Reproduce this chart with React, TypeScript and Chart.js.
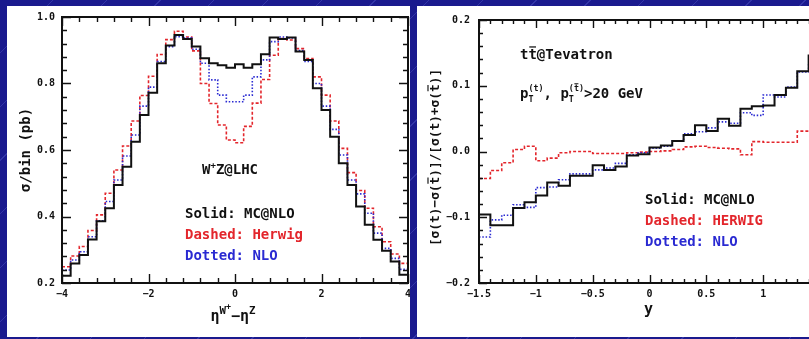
import React, { useEffect, useRef } from 'react';
import { Chart, registerables } from 'chart.js';
Chart.register(...registerables);

// ---------- data: left panel (W+Z @ LHC) ----------
const LEFT_EDGES = [-4.0,-3.8,-3.6,-3.4,-3.2,-3.0,-2.8,-2.6,-2.4,-2.2,-2.0,-1.8,-1.6,-1.4,-1.2,-1.0,-0.8,-0.6,-0.4,-0.2,0.0,0.2,0.4,0.6,0.8,1.0,1.2,1.4,1.6,1.8,2.0,2.2,2.4,2.6,2.8,3.0,3.2,3.4,3.6,3.8,4.0];
const LEFT_MCNLO = [0.222,0.259,0.284,0.331,0.386,0.425,0.495,0.55,0.625,0.705,0.772,0.861,0.914,0.946,0.934,0.911,0.876,0.861,0.855,0.847,0.858,0.847,0.858,0.888,0.938,0.934,0.938,0.896,0.871,0.786,0.72,0.64,0.56,0.495,0.43,0.375,0.33,0.297,0.265,0.225];
const LEFT_HERWIG = [0.249,0.281,0.31,0.358,0.405,0.47,0.54,0.612,0.687,0.764,0.822,0.887,0.932,0.957,0.94,0.898,0.80,0.74,0.675,0.63,0.622,0.671,0.741,0.812,0.885,0.935,0.931,0.905,0.875,0.82,0.765,0.687,0.605,0.532,0.478,0.425,0.369,0.324,0.287,0.259];
const LEFT_NLO = [0.239,0.269,0.294,0.339,0.387,0.445,0.51,0.582,0.645,0.732,0.789,0.866,0.911,0.941,0.937,0.903,0.861,0.811,0.765,0.745,0.745,0.765,0.82,0.871,0.926,0.94,0.937,0.899,0.866,0.80,0.732,0.662,0.585,0.51,0.468,0.41,0.35,0.304,0.274,0.241];
const LEFT_X_TICKS = [-4, -2, 0, 2, 4];
const LEFT_Y_TICKS = [0.2, 0.4, 0.6, 0.8, 1.0];

// ---------- data: right panel (t tbar @ Tevatron) ----------
const RIGHT_EDGES = [-1.5,-1.4,-1.3,-1.2,-1.1,-1.0,-0.9,-0.8,-0.7,-0.6,-0.5,-0.4,-0.3,-0.2,-0.1,0.0,0.1,0.2,0.3,0.4,0.5,0.6,0.7,0.8,0.9,1.0,1.1,1.2,1.3,1.4,1.5];
const RIGHT_MCNLO = [-0.096,-0.112,-0.112,-0.086,-0.077,-0.067,-0.047,-0.052,-0.037,-0.037,-0.021,-0.028,-0.023,-0.006,-0.004,0.006,0.009,0.016,0.025,0.040,0.031,0.050,0.039,0.065,0.069,0.070,0.086,0.097,0.122,0.146];
const RIGHT_HERWIG = [-0.041,-0.029,-0.017,0.003,0.008,-0.014,-0.010,-0.002,0.000,0.000,-0.003,-0.003,-0.003,-0.002,-0.001,0.000,0.001,0.003,0.007,0.008,0.006,0.005,0.004,-0.005,0.015,0.014,0.014,0.014,0.031,0.029];
const RIGHT_NLO = [-0.130,-0.104,-0.097,-0.081,-0.085,-0.055,-0.054,-0.043,-0.034,-0.034,-0.028,-0.025,-0.018,-0.005,-0.002,0.005,0.008,0.016,0.027,0.030,0.036,0.045,0.043,0.059,0.055,0.086,0.083,0.098,0.121,0.135];
const RIGHT_X_TICKS = [-1.5, -1, -0.5, 0, 0.5, 1, 1.5];
const RIGHT_Y_TICKS = [-0.2, -0.1, 0, 0.1, 0.2];

// ---------- style ----------
const BLACK = '#111111';
const RED = '#e3262c';
const BLUE = '#2a2ad2';
const MONO = "'DejaVu Sans Mono', monospace";

type Seg = { t: string; s?: number; dy?: number; over?: boolean; hold?: boolean };

function drawRich(ctx: CanvasRenderingContext2D, segs: Seg[], x: number, y: number, size: number, color: string, align: 'left' | 'center') {
  let total = 0;
  const widths: number[] = [];
  for (const g of segs) {
    ctx.font = `bold ${size * (g.s || 1)}px ${MONO}`;
    const w = ctx.measureText(g.t).width;
    widths.push(w);
    if (!g.hold) total += w;
  }
  let cx = align === 'center' ? x - total / 2 : x;
  ctx.fillStyle = color;
  ctx.strokeStyle = color;
  ctx.textAlign = 'left';
  ctx.textBaseline = 'alphabetic';
  segs.forEach((g, i) => {
    const fs = size * (g.s || 1);
    ctx.font = `bold ${fs}px ${MONO}`;
    const by = y + (g.dy || 0) * size;
    ctx.fillText(g.t, cx, by);
    if (g.over) {
      ctx.lineWidth = Math.max(1, fs * 0.09);
      ctx.beginPath();
      ctx.moveTo(cx + widths[i] * 0.1, by - fs * 0.86);
      ctx.lineTo(cx + widths[i] * 0.9, by - fs * 0.86);
      ctx.stroke();
    }
    if (!g.hold) cx += widths[i];
  });
}

function histPoints(edges: number[], vals: number[]) {
  return edges.map((x, i) => ({ x, y: vals[Math.min(i, vals.length - 1)] }));
}

function fmt(v: number, digits: number) {
  const s = Math.abs(v).toFixed(digits);
  return v < -1e-9 ? '\u2212' + s : s;
}

interface FrameOpts {
  xMinor: number; xMajor: number; yMinor: number; yMajor: number;
  majLen: number; minLen: number;
  annotate: (ctx: CanvasRenderingContext2D, a: any) => void;
}

function framePlugin(o: FrameOpts) {
  return {
    id: 'frameTicks',
    afterDraw(chart: any) {
      const { ctx, chartArea: a, scales } = chart;
      const x = scales.x, y = scales.y;
      ctx.save();
      ctx.strokeStyle = BLACK;
      ctx.lineWidth = 1.4;
      const isMaj = (v: number, m: number) => Math.abs(v / m - Math.round(v / m)) < 1e-6;
      const nx = Math.round((x.max - x.min) / o.xMinor);
      for (let i = 0; i <= nx; i++) {
        const v = x.min + i * o.xMinor;
        const px = Math.round(x.getPixelForValue(v)) + 0.5;
        const len = isMaj(v, o.xMajor) ? o.majLen : o.minLen;
        ctx.beginPath();
        ctx.moveTo(px, a.bottom); ctx.lineTo(px, a.bottom - len);
        ctx.moveTo(px, a.top); ctx.lineTo(px, a.top + len);
        ctx.stroke();
      }
      const ny = Math.round((y.max - y.min) / o.yMinor);
      for (let i = 0; i <= ny; i++) {
        const v = y.min + i * o.yMinor;
        const py = Math.round(y.getPixelForValue(v)) + 0.5;
        const len = isMaj(v, o.yMajor) ? o.majLen : o.minLen;
        ctx.beginPath();
        ctx.moveTo(a.left, py); ctx.lineTo(a.left + len, py);
        ctx.moveTo(a.right, py); ctx.lineTo(a.right - len, py);
        ctx.stroke();
      }
      ctx.lineWidth = 2;
      ctx.strokeRect(a.left, a.top, a.right - a.left, a.bottom - a.top);
      o.annotate(ctx, a);
      ctx.restore();
    },
  };
}

function baseScales(xMin: number, xMax: number, yMin: number, yMax: number, xTicks: number[], yTicks: number[],
  yWidth: number, xHeight: number, yPad: number, xPad: number, xDigits: (v: number) => string, yDigits: (v: number) => string) {
  const tickFont = { family: MONO, size: 10, weight: 'bold' as const };
  return {
    x: {
      type: 'linear' as const, min: xMin, max: xMax,
      grid: { display: false, drawTicks: false },
      border: { display: false },
      afterBuildTicks: (s: any) => { s.ticks = xTicks.map((v) => ({ value: v })); },
      afterFit: (s: any) => { s.height = xHeight; s.paddingLeft = 0; s.paddingRight = 0; },
      ticks: { autoSkip: false, maxRotation: 0, minRotation: 0, padding: xPad, color: BLACK, font: tickFont, callback: (v: any) => xDigits(Number(v)) },
    },
    y: {
      type: 'linear' as const, min: yMin, max: yMax,
      grid: { display: false, drawTicks: false },
      border: { display: false },
      afterBuildTicks: (s: any) => { s.ticks = yTicks.map((v) => ({ value: v })); },
      afterFit: (s: any) => { s.width = yWidth; s.paddingTop = 0; s.paddingBottom = 0; },
      ticks: { autoSkip: false, padding: yPad, color: BLACK, font: tickFont, callback: (v: any) => yDigits(Number(v)) },
    },
  };
}

function datasets(edges: number[], solid: number[], dashed: number[], dotted: number[]) {
  const common = { pointRadius: 0, stepped: true as const, fill: false, tension: 0 };
  return [
    { label: 'Solid: MC@NLO', data: histPoints(edges, solid), borderColor: BLACK, borderWidth: 2, ...common },
    { label: 'Dotted: NLO', data: histPoints(edges, dotted), borderColor: BLUE, borderWidth: 1.6, borderDash: [1.5, 1.8], ...common },
    { label: 'Dashed: Herwig', data: histPoints(edges, dashed), borderColor: RED, borderWidth: 1.6, borderDash: [3, 2], ...common },
  ];
}

function LeftChart() {
  const ref = useRef<HTMLCanvasElement>(null);
  useEffect(() => {
    const chart = new Chart(ref.current!, {
      type: 'line',
      data: { datasets: datasets(LEFT_EDGES, LEFT_MCNLO, LEFT_HERWIG, LEFT_NLO) as any },
      options: {
        animation: false, responsive: false, devicePixelRatio: 1,
        layout: { padding: { left: 0, right: 2, top: 11, bottom: 0 } },
        plugins: { legend: { display: false }, tooltip: { enabled: false } },
        scales: baseScales(-4, 4, 0.2, 1.0, LEFT_X_TICKS, LEFT_Y_TICKS, 55, 54, 7, 5,
          (v) => fmt(v, 0), (v) => fmt(v, 1)) as any,
      },
      plugins: [framePlugin({
        xMinor: 0.4, xMajor: 2, yMinor: 0.04, yMajor: 0.2, majLen: 9, minLen: 5,
        annotate: (ctx, a) => {
          // y-axis title
          ctx.save();
          ctx.translate(a.left - 32, (a.top + a.bottom) / 2);
          ctx.rotate(-Math.PI / 2);
          drawRich(ctx, [{ t: '\u03c3/bin (pb)' }], 0, 0, 14, BLACK, 'center');
          ctx.restore();
          // x-axis title
          drawRich(ctx, [
            { t: '\u03b7' }, { t: 'W', s: 0.72, dy: -0.45 }, { t: '+', s: 0.55, dy: -0.8 },
            { t: '\u2212\u03b7' }, { t: 'Z', s: 0.72, dy: -0.45 },
          ], (a.left + a.right) / 2 - 2, a.bottom + 38, 15, BLACK, 'center');
          // process label
          drawRich(ctx, [{ t: 'W' }, { t: '+', s: 0.65, dy: -0.45 }, { t: 'Z@LHC' }], (a.left + a.right) / 2 - 5, a.top + 157, 14, BLACK, 'center');
          // legend text
          drawRich(ctx, [{ t: 'Solid: MC@NLO' }], a.left + 123, a.top + 201, 14, BLACK, 'left');
          drawRich(ctx, [{ t: 'Dashed: Herwig' }], a.left + 123, a.top + 222, 14, RED, 'left');
          drawRich(ctx, [{ t: 'Dotted: NLO' }], a.left + 123, a.top + 243, 14, BLUE, 'left');
        },
      })],
    });
    return () => chart.destroy();
  }, []);
  return <canvas ref={ref} width={403} height={331} style={{ display: 'block' }} />;
}

function RightChart() {
  const ref = useRef<HTMLCanvasElement>(null);
  useEffect(() => {
    const chart = new Chart(ref.current!, {
      type: 'line',
      data: { datasets: datasets(RIGHT_EDGES, RIGHT_MCNLO, RIGHT_HERWIG, RIGHT_NLO) as any },
      options: {
        animation: false, responsive: false, devicePixelRatio: 1,
        layout: { padding: { left: 0, right: 3, top: 14, bottom: 0 } },
        plugins: { legend: { display: false }, tooltip: { enabled: false } },
        scales: baseScales(-1.5, 1.5, -0.2, 0.2, RIGHT_X_TICKS, RIGHT_Y_TICKS, 62, 54, 9, 5,
          (v) => (Number.isInteger(v) ? fmt(v, 0) : fmt(v, 1)), (v) => fmt(v, 1)) as any,
      },
      plugins: [framePlugin({
        xMinor: 0.1, xMajor: 0.5, yMinor: 0.02, yMajor: 0.1, majLen: 8, minLen: 4,
        annotate: (ctx, a) => {
          // y-axis title
          ctx.save();
          ctx.translate(a.left - 40, (a.top + a.bottom) / 2 + 6);
          ctx.rotate(-Math.PI / 2);
          drawRich(ctx, [
            { t: '[\u03c3(t)\u2212\u03c3(' }, { t: 't', over: true }, { t: ')]/[\u03c3(t)+\u03c3(' }, { t: 't', over: true }, { t: ')]' },
          ], 0, 0, 12.8, BLACK, 'left' === 'left' ? 'center' : 'center');
          ctx.restore();
          // x-axis title
          drawRich(ctx, [{ t: 'y' }], (a.left + a.right) / 2 - 1, a.bottom + 31, 15, BLACK, 'center');
          // process labels
          drawRich(ctx, [{ t: 't' }, { t: 't', over: true }, { t: '@Tevatron' }], a.left + 41, a.top + 39, 14, BLACK, 'left');
          drawRich(ctx, [
            { t: 'p' }, { t: 'T', s: 0.6, dy: 0.3, hold: true }, { t: '(t)', s: 0.6, dy: -0.5 },
            { t: ', p' }, { t: 'T', s: 0.6, dy: 0.3, hold: true }, { t: '(', s: 0.6, dy: -0.5 }, { t: 't', s: 0.6, dy: -0.5, over: true }, { t: ')', s: 0.6, dy: -0.5 },
            { t: '>20 GeV' },
          ], a.left + 41, a.top + 78, 14, BLACK, 'left');
          // legend text
          drawRich(ctx, [{ t: 'Solid: MC@NLO' }], a.left + 166, a.top + 184, 14, BLACK, 'left');
          drawRich(ctx, [{ t: 'Dashed: HERWIG' }], a.left + 166, a.top + 205, 14, RED, 'left');
          drawRich(ctx, [{ t: 'Dotted: NLO' }], a.left + 166, a.top + 226, 14, BLUE, 'left');
        },
      })],
    });
    return () => chart.destroy();
  }, []);
  return <canvas ref={ref} width={406} height={331} style={{ display: 'block' }} />;
}

export default function App() {
  return (
    <div style={{
      position: 'fixed', left: 0, top: 0, width: 809, height: 339, overflow: 'hidden',
      backgroundColor: '#1a1a8e',
      backgroundImage: 'repeating-linear-gradient(135deg, rgba(255,255,255,0) 0px, rgba(255,255,255,0) 37px, rgba(140,150,255,0.22) 37px, rgba(140,150,255,0.22) 38px)',
    }}>
      <div style={{ position: 'absolute', left: 7, top: 6, width: 403, height: 331, background: '#ffffff', overflow: 'hidden' }}>
        <LeftChart />
      </div>
      <div style={{ position: 'absolute', left: 417, top: 6, width: 406, height: 331, background: '#ffffff', overflow: 'hidden' }}>
        <RightChart />
      </div>
    </div>
  );
}
